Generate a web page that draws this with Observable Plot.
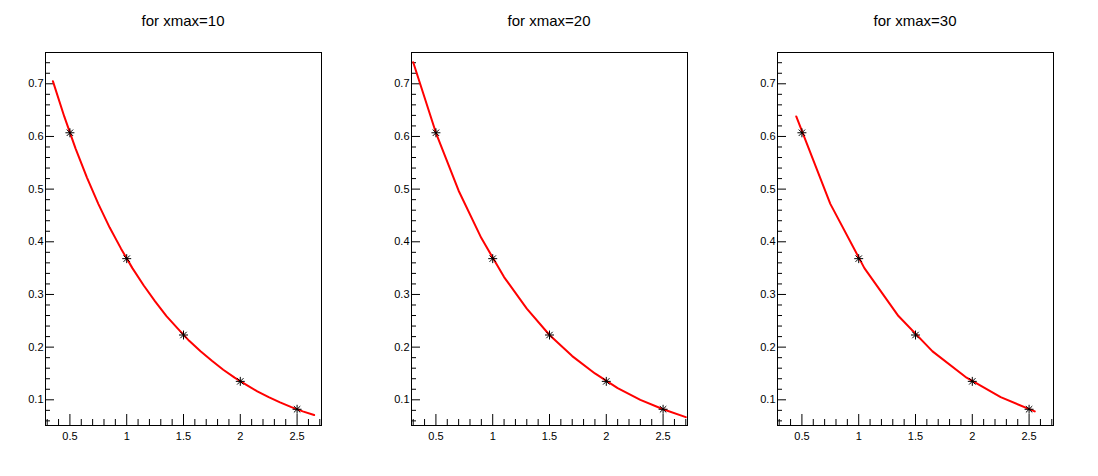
<!DOCTYPE html>
<html><head><meta charset="utf-8">
<script src="https://cdn.jsdelivr.net/npm/d3@7"></script>
<script src="https://cdn.jsdelivr.net/npm/@observablehq/plot@0.6"></script>
<style>
body{margin:0;background:#fff;font-family:"Liberation Sans",Arial,Helvetica,sans-serif;}
#row{display:flex;width:1098px;height:476px;}
.panel{width:366px;height:476px;}
.title{height:40px;line-height:42px;text-align:center;font-size:15px;color:#000;}
svg{display:block;}
</style></head><body><div id="row"></div>
<script>
const titles = ["for xmax=10", "for xmax=20", "for xmax=30"];

// graph points (asterisk markers)
const pointX = [0.5, 1, 1.5, 2, 2.5];
const pointY = [0.607, 0.368, 0.223, 0.135, 0.082];

// red curves
const curve1X = [0.35,0.45,0.55,0.65,0.75,0.85,0.95,1.05,1.15,1.25,1.35,1.45,1.55,1.65,1.75,1.85,1.95,2.05,2.15,2.25,2.35,2.45,2.55,2.65];
const curve1Y = [0.705,0.638,0.577,0.522,0.472,0.427,0.387,0.350,0.317,0.287,0.259,0.235,0.212,0.192,0.174,0.157,0.142,0.129,0.116,0.105,0.095,0.086,0.078,0.071];
const curve2X = [0.3,0.5,0.7,0.9,1.1,1.3,1.5,1.7,1.9,2.1,2.3,2.5,2.7];
const curve2Y = [0.741,0.607,0.497,0.407,0.333,0.273,0.223,0.183,0.150,0.122,0.100,0.082,0.067];
const curve3X = [0.45,0.75,1.05,1.35,1.65,1.95,2.25,2.55];
const curve3Y = [0.638,0.472,0.350,0.259,0.192,0.142,0.105,0.078];

// axes
const xDomain = [0.285, 2.715];
const yDomain = [0.0512, 0.7594];
const xMajor = [0.5, 1, 1.5, 2, 2.5];
const xMajorLabels = ["0.5", "1", "1.5", "2", "2.5"];
const xMinor = [0.3,0.4,0.6,0.7,0.8,0.9,1.1,1.2,1.3,1.4,1.6,1.7,1.8,1.9,2.1,2.2,2.3,2.4,2.6,2.7];
const yMajor = [0.1, 0.2, 0.3, 0.4, 0.5, 0.6, 0.7];
const yMajorLabels = ["0.1", "0.2", "0.3", "0.4", "0.5", "0.6", "0.7"];
const yMinor = [0.06,0.08,0.12,0.14,0.16,0.18,0.22,0.24,0.26,0.28,0.32,0.34,0.36,0.38,0.42,0.44,0.46,0.48,0.52,0.54,0.56,0.58,0.62,0.64,0.66,0.68,0.72,0.74];

const xLab = new Map(xMajor.map((v, i) => [v, xMajorLabels[i]]));
const yLab = new Map(yMajor.map((v, i) => [v, yMajorLabels[i]]));

const curves = [[curve1X, curve1Y], [curve2X, curve2Y], [curve3X, curve3Y]];
const points = pointX.map((x, i) => ({x, y: pointY[i]}));

const row = document.getElementById("row");
curves.forEach(([cx, cy], k) => {
  const data = cx.map((x, i) => ({x, y: cy[i]}));
  const panel = document.createElement("div");
  panel.className = "panel";
  const t = document.createElement("div");
  t.className = "title";
  t.textContent = titles[k];
  panel.appendChild(t);
  const chart = Plot.plot({
    width: 366,
    height: 436,
    marginLeft: 45,
    marginRight: 45,
    marginTop: 12,
    marginBottom: 51,
    style: {fontFamily: "'Liberation Sans', Arial, Helvetica, sans-serif", fontSize: "11px", color: "#000", background: "#fff"},
    x: {domain: xDomain},
    y: {domain: yDomain},
    marks: [
      Plot.axisX({ticks: xMinor, tickSize: -6, tickFormat: () => "", label: null}),
      Plot.axisX({ticks: xMajor, tickSize: -11, tickFormat: () => "", label: null}),
      Plot.axisX({ticks: xMajor, tickSize: 0, tickPadding: 7, tickFormat: d => xLab.get(d), label: null, fontSize: 11}),
      Plot.axisY({ticks: yMinor, tickSize: -5, tickFormat: () => "", label: null}),
      Plot.axisY({ticks: yMajor, tickSize: -9, tickFormat: () => "", label: null}),
      Plot.axisY({ticks: yMajor, tickSize: 0, tickPadding: 2, tickFormat: d => yLab.get(d), label: null, fontSize: 11}),
      Plot.frame({stroke: "#000", strokeWidth: 1}),
      Plot.line(data, {x: "x", y: "y", stroke: "#ff0000", strokeWidth: 2}),
      Plot.dot(points, {x: "x", y: "y", symbol: "plus", r: 3, stroke: "#000", strokeWidth: 1}),
      Plot.dot(points, {x: "x", y: "y", symbol: "times", r: 3, stroke: "#000", strokeWidth: 1})
    ]
  });
  panel.appendChild(chart);
  row.appendChild(panel);
});
</script></body></html>
